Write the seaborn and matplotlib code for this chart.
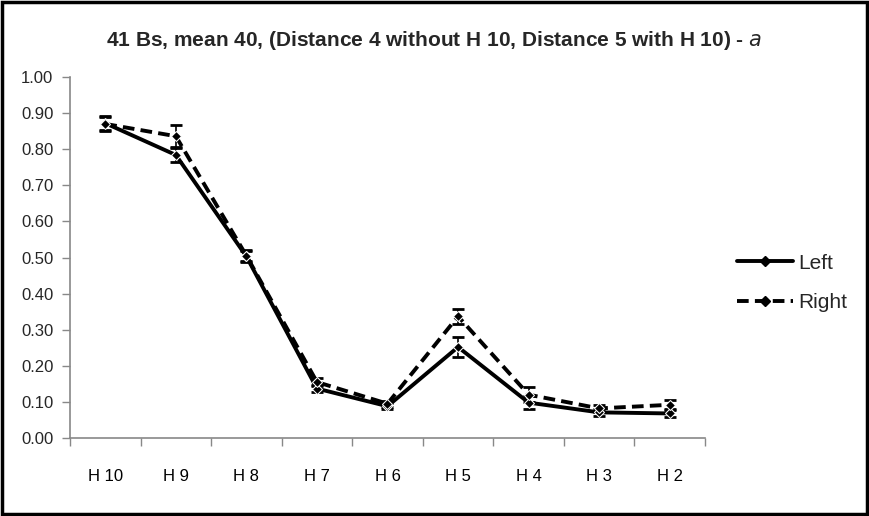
import matplotlib
matplotlib.use("Agg")
import matplotlib.pyplot as plt
import seaborn as sns
import pandas as pd
import numpy as np
from matplotlib.lines import Line2D
from matplotlib.patches import Rectangle

categories = ["H 10", "H 9", "H 8", "H 7", "H 6", "H 5", "H 4", "H 3", "H 2"]
left_vals = [0.872, 0.784, 0.503, 0.137, 0.088, 0.252, 0.098, 0.071, 0.068]
right_vals = [0.870, 0.836, 0.505, 0.155, 0.095, 0.337, 0.120, 0.082, 0.092]
left_err = [0.020, 0.020, 0.015, 0.010, 0.008, 0.028, 0.018, 0.010, 0.010]
right_err = [0.020, 0.030, 0.015, 0.012, 0.008, 0.020, 0.020, 0.010, 0.012]
series_names = ["Left", "Right"]
y_ticks = [0.0, 0.1, 0.2, 0.3, 0.4, 0.5, 0.6, 0.7, 0.8, 0.9, 1.0]
title = "41 Bs, mean 40, (Distance 4 without H 10, Distance 5 with H 10) - $\\it{a}$"

sns.set_theme(style="white")
plt.rcParams["font.family"] = ["Liberation Sans", "DejaVu Sans"]

df = pd.DataFrame({
    "cat": categories * 2,
    "x": list(range(len(categories))) * 2,
    "value": left_vals + right_vals,
    "err": left_err + right_err,
    "side": [series_names[0]] * len(categories) + [series_names[1]] * len(categories),
})

fig = plt.figure(figsize=(8.69, 5.16), dpi=100)
ax = fig.add_axes([70 / 869, (516 - 438) / 516, (705 - 70) / 869, (438 - 77) / 516])

for name in series_names:
    sub = df[df["side"] == name]
    ax.errorbar(sub["x"], sub["value"], yerr=sub["err"], fmt="none",
                ecolor="black", elinewidth=1.2, capsize=4, capthick=2, zorder=2)

sns.lineplot(data=df, x="x", y="value", hue="side", style="side",
             palette={"Left": "black", "Right": "black"},
             dashes={"Left": "", "Right": (3, 1.6)},
             markers={"Left": "D", "Right": "D"}, markersize=5,
             linewidth=2.8, ax=ax, legend=False, zorder=3)

ax.set_xlim(-0.5, len(categories) - 0.5)
ax.set_ylim(0, 1.0)
ax.set_yticks(y_ticks)
ax.set_yticklabels([f"{v:.2f}" for v in y_ticks])
ax.set_xticks(range(len(categories)))
ax.set_xticklabels(categories)
ax.set_xticks(np.arange(-0.5, len(categories) + 0.5, 1), minor=True)
ax.tick_params(axis="x", which="major", length=0, pad=22, labelsize=12, colors="black")
ax.tick_params(axis="x", which="minor", length=6, width=1, color="#888888", direction="out", bottom=True)
ax.tick_params(axis="y", which="major", length=6, width=1, color="#888888", direction="out", left=True, labelsize=12, pad=6)
ax.set_xlabel("")
ax.set_ylabel("")
for s in ["top", "right"]:
    ax.spines[s].set_visible(False)
for s in ["left", "bottom"]:
    ax.spines[s].set_color("#888888")
    ax.spines[s].set_linewidth(1.2)

fig.text(0.5, 1 - 40 / 516, title, ha="center", va="center",
         fontsize=15, fontweight="bold", family=["Liberation Sans Narrow", "Liberation Sans"])

handles = [Line2D([], [], color="black", linestyle="-", linewidth=2.8, marker="D", markersize=5),
           Line2D([], [], color="black", linestyle=(0, (3, 1.6)), linewidth=2.8, marker="D", markersize=5)]
fig.legend(handles, series_names, loc="center left", bbox_to_anchor=(737 / 869, 1 - 283 / 516),
           frameon=False, fontsize=15, handlelength=2.7, handletextpad=0.25, labelspacing=1.0,
           borderaxespad=0, borderpad=0)

fig.patches.append(Rectangle((0.002, 0.003), 0.996, 0.994, transform=fig.transFigure,
                             fill=False, edgecolor="black", linewidth=2.5))

fig.savefig("out.png", dpi=100)
